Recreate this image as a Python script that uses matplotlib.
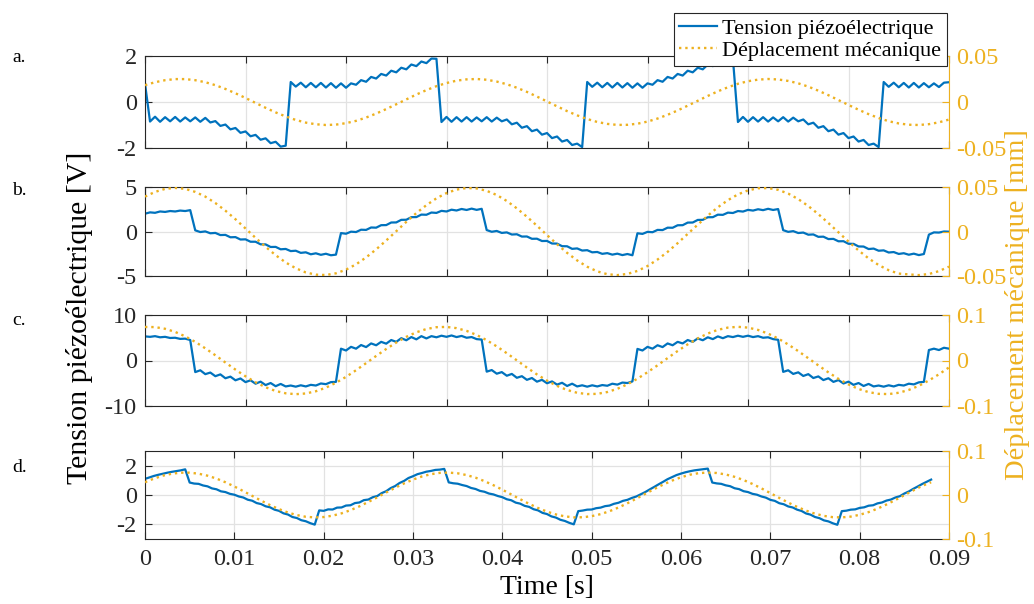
import numpy as np
import matplotlib
matplotlib.use('Agg')
import matplotlib.pyplot as plt

plt.rcParams['font.family'] = ['Liberation Serif', 'DejaVu Serif']
plt.rcParams['axes.unicode_minus'] = False

# sample steps (s)
dt_volt = 0.0005
dt_disp = 0.001

# a. piezo voltage [V]
volt_a = [0.80,
          -0.85, -0.64, -0.86, -0.66, -0.84, -0.65, -0.85, -0.67, -0.84, -0.67, -0.86, -0.69,
          -0.89, -0.83, -1.04, -0.98, -1.19, -1.13, -1.34, -1.28, -1.49, -1.43, -1.64, -1.58, -1.79, -1.73, -1.94, -1.90,
          0.87, 0.67, 0.84, 0.64, 0.83, 0.64, 0.83, 0.63, 0.82, 0.62, 0.81, 0.62,
          0.81, 0.75, 0.95, 0.88, 1.09, 1.02, 1.22, 1.15, 1.36, 1.29, 1.49, 1.42, 1.63, 1.56, 1.76, 1.69, 1.89, 1.88,
          -0.87, -0.65, -0.86, -0.66, -0.85, -0.66, -0.85, -0.67, -0.84, -0.66, -0.85, -0.68,
          -0.84, -0.76, -0.97, -0.90, -1.12, -1.05, -1.27, -1.20, -1.42, -1.35, -1.57, -1.50, -1.72, -1.65, -1.87, -1.81, -1.96,
          0.87, 0.66, 0.84, 0.64, 0.83, 0.63, 0.83, 0.63, 0.82, 0.62, 0.81, 0.62,
          0.81, 0.75, 0.95, 0.88, 1.09, 1.02, 1.22, 1.15, 1.36, 1.29, 1.49, 1.42, 1.63, 1.56, 1.76, 1.69, 1.89, 1.88,
          -0.87, -0.65, -0.86, -0.66, -0.85, -0.66, -0.85, -0.67, -0.84, -0.66, -0.85, -0.68,
          -0.84, -0.76, -0.97, -0.90, -1.12, -1.05, -1.27, -1.20, -1.42, -1.35, -1.57, -1.50, -1.72, -1.65, -1.87, -1.81, -1.96,
          0.87, 0.66, 0.84, 0.64, 0.83, 0.63, 0.83, 0.63, 0.82, 0.64, 0.81, 0.65, 0.84, 0.86]

# a. displacement [mm]
disp_a = [0.0183, 0.0215, 0.0237, 0.0249, 0.0249, 0.0237, 0.0215, 0.0183, 0.0142, 0.0095,
          0.0044, -0.0010, -0.0063, -0.0113, -0.0157, -0.0195, -0.0224, -0.0242, -0.0250, -0.0246,
          -0.0230, -0.0205, -0.0169, -0.0126, -0.0077, -0.0025, 0.0028, 0.0081, 0.0129, 0.0172,
          0.0206, 0.0232, 0.0246, 0.0250, 0.0242, 0.0222, 0.0193, 0.0155, 0.0110, 0.0059,
          0.0006, -0.0047, -0.0099, -0.0145, -0.0185, -0.0217, -0.0238, -0.0249, -0.0248, -0.0236,
          -0.0213, -0.0180, -0.0139, -0.0092, -0.0040, 0.0013, 0.0066, 0.0116, 0.0160, 0.0198,
          0.0226, 0.0243, 0.0250, 0.0245, 0.0229, 0.0203, 0.0167, 0.0123, 0.0074, 0.0021,
          -0.0032, -0.0084, -0.0132, -0.0174, -0.0209, -0.0233, -0.0247, -0.0250, -0.0241, -0.0221,
          -0.0191]

# b. piezo voltage [V]
volt_b = [2.0, 2.15, 2.1, 2.25, 2.2, 2.3, 2.25, 2.35, 2.3, 2.4,
          0.13, -0.06, 0.01, -0.2, -0.16, -0.4, -0.38, -0.65, -0.63, -0.9,
          -0.88, -1.15, -1.15, -1.44, -1.45, -1.74, -1.73, -2.0, -1.96, -2.2,
          -2.16, -2.4, -2.34, -2.56, -2.45, -2.62, -2.5, -2.67, -2.6,
          -0.18, -0.25, -0.02, -0.06, 0.2, 0.18, 0.45, 0.43, 0.71, 0.72,
          1.01, 1.02, 1.31, 1.32, 1.61, 1.62, 1.9, 1.88, 2.13, 2.09,
          2.32, 2.25, 2.45, 2.36, 2.53, 2.42, 2.57, 2.43, 2.55,
          0.16, -0.03, 0.06, -0.16, -0.1, -0.34, -0.31, -0.57, -0.56, -0.82,
          -0.81, -1.07, -1.06, -1.35, -1.36, -1.65, -1.66, -1.95, -1.9, -2.14,
          -2.1, -2.34, -2.3, -2.51, -2.43, -2.6, -2.49, -2.65, -2.53, -2.67,
          -0.2, -0.27, -0.04, -0.08, 0.18, 0.16, 0.43, 0.42, 0.7, 0.71,
          1.0, 1.01, 1.3, 1.31, 1.6, 1.61, 1.89, 1.87, 2.12, 2.08,
          2.3, 2.24, 2.43, 2.35, 2.5, 2.4, 2.55, 2.42, 2.52,
          0.15, -0.04, 0.04, -0.17, -0.12, -0.36, -0.33, -0.6, -0.58, -0.85,
          -0.83, -1.1, -1.09, -1.38, -1.39, -1.68, -1.69, -1.97, -1.92, -2.16,
          -2.12, -2.36, -2.31, -2.52, -2.44, -2.61, -2.49, -2.65, -2.53,
          -0.35, -0.1, -0.12, 0.0, -0.02]

# b. displacement [mm]
disp_b = [0.0392, 0.0445, 0.0479, 0.0490, 0.0479, 0.0445, 0.0392, 0.0320, 0.0234, 0.0138,
          0.0034, -0.0071, -0.0172, -0.0266, -0.0348, -0.0413, -0.0460, -0.0485, -0.0489, -0.0470,
          -0.0429, -0.0369, -0.0291, -0.0201, -0.0101, 0.0003, 0.0108, 0.0207, 0.0296, 0.0373,
          0.0432, 0.0471, 0.0489, 0.0484, 0.0457, 0.0410, 0.0343, 0.0260, 0.0166, 0.0065,
          -0.0040, -0.0143, -0.0240, -0.0325, -0.0396, -0.0448, -0.0480, -0.0490, -0.0477, -0.0443,
          -0.0388, -0.0315, -0.0229, -0.0131, -0.0027, 0.0077, 0.0178, 0.0272, 0.0352, 0.0417,
          0.0462, 0.0486, 0.0488, 0.0468, 0.0426, 0.0364, 0.0286, 0.0195, 0.0095, -0.0009,
          -0.0113, -0.0213, -0.0302, -0.0377, -0.0435, -0.0473, -0.0482, -0.0490, -0.0478, -0.0445,
          -0.0395]

# c. piezo voltage [V]
volt_c = [5.3, 5.2, 5.35, 5.1, 5.2, 4.95, 5.0, 4.75, 4.8, 4.5,
          -2.55, -2.15, -3.0, -2.65, -3.45, -3.05, -3.9, -3.55, -4.35, -3.95,
          -4.75, -4.35, -5.1, -4.65, -5.4, -4.95, -5.65, -5.15, -5.7, -5.5,
          -5.75, -5.45, -5.7, -5.35, -5.5, -5.05, -5.2, -4.75, -4.7,
          2.6, 2.2, 3.0, 2.6, 3.4, 2.95, 3.75, 3.35, 4.1, 3.7,
          4.5, 4.1, 4.9, 4.45, 5.15, 4.65, 5.35, 4.85, 5.35, 5.1,
          5.45, 5.2, 5.5, 5.15, 5.4, 5.0, 5.15, 4.7, 4.6,
          -2.45, -2.1, -2.9, -2.55, -3.35, -2.95, -3.8, -3.45, -4.25, -3.85,
          -4.65, -4.25, -5.0, -4.6, -5.3, -4.9, -5.6, -5.1, -5.7, -5.45,
          -5.75, -5.45, -5.7, -5.4, -5.55, -5.1, -5.3, -4.85, -4.95, -4.6,
          2.55, 2.2, 3.0, 2.6, 3.35, 2.95, 3.75, 3.35, 4.1, 3.75,
          4.5, 4.1, 4.85, 4.45, 5.1, 4.7, 5.3, 4.9, 5.35, 5.15,
          5.45, 5.2, 5.45, 5.15, 5.35, 5.0, 5.1, 4.7, 4.55,
          -2.5, -2.15, -2.95, -2.6, -3.4, -3.0, -3.85, -3.5, -4.3, -3.9,
          -4.7, -4.3, -5.05, -4.65, -5.35, -4.95, -5.6, -5.15, -5.7, -5.5,
          -5.75, -5.45, -5.7, -5.35, -5.5, -5.1, -5.25, -4.8, -4.7,
          2.3, 2.6, 2.3, 2.8, 2.6]

# c. displacement [mm]
disp_c = [0.0737, 0.0734, 0.0697, 0.0628, 0.0531, 0.0409, 0.0268, 0.0115, -0.0044, -0.0200,
          -0.0347, -0.0479, -0.0588, -0.0670, -0.0721, -0.0740, -0.0725, -0.0676, -0.0597, -0.0489,
          -0.0360, -0.0214, -0.0058, 0.0100, 0.0253, 0.0395, 0.0520, 0.0620, 0.0692, 0.0732,
          0.0738, 0.0711, 0.0651, 0.0561, 0.0446, 0.0310, 0.0160, 0.0003, -0.0155, -0.0306,
          -0.0442, -0.0558, -0.0648, -0.0710, -0.0738, -0.0733, -0.0693, -0.0622, -0.0523, -0.0400,
          -0.0258, -0.0106, 0.0053, 0.0209, 0.0355, 0.0485, 0.0593, 0.0674, 0.0723, 0.0740,
          0.0723, 0.0672, 0.0591, 0.0483, 0.0352, 0.0206, 0.0050, -0.0108, -0.0261, -0.0403,
          -0.0526, -0.0625, -0.0695, -0.0733, -0.0738, -0.0709, -0.0647, -0.0556, -0.0439, -0.0303,
          -0.0152]

# d. piezo voltage [V]
volt_d = [1.1, 1.2, 1.3, 1.38, 1.45, 1.52, 1.58, 1.63, 1.68, 1.75,
          0.85, 0.78, 0.76, 0.65, 0.59, 0.45, 0.39, 0.25, 0.2, 0.08,
          0.02, -0.1, -0.17, -0.32, -0.39, -0.55, -0.62, -0.77, -0.84, -1.0,
          -1.08, -1.25, -1.33, -1.5, -1.57, -1.72, -1.79, -1.92, -2.02,
          -1.05, -1.08, -0.98, -0.99, -0.86, -0.85, -0.72, -0.7, -0.55, -0.51,
          -0.35, -0.31, -0.15, -0.07, 0.13, 0.26, 0.47, 0.61, 0.82, 0.96,
          1.16, 1.28, 1.42, 1.5, 1.59, 1.64, 1.71, 1.73, 1.78,
          0.86, 0.8, 0.77, 0.68, 0.61, 0.48, 0.41, 0.28, 0.22, 0.1,
          0.04, -0.07, -0.15, -0.29, -0.36, -0.52, -0.59, -0.74, -0.81, -0.97,
          -1.05, -1.22, -1.3, -1.46, -1.54, -1.69, -1.77, -1.9, -2.0,
          -1.1, -1.06, -1.0, -0.99, -0.9, -0.86, -0.76, -0.72, -0.6, -0.53,
          -0.4, -0.33, -0.2, -0.1, 0.05, 0.2, 0.38, 0.55, 0.73, 0.9,
          1.08, 1.22, 1.36, 1.46, 1.55, 1.62, 1.68, 1.72, 1.76, 1.8,
          0.85, 0.79, 0.76, 0.66, 0.6, 0.46, 0.4, 0.26, 0.2, 0.08,
          0.02, -0.1, -0.18, -0.33, -0.4, -0.56, -0.63, -0.78, -0.85, -1.0,
          -1.09, -1.26, -1.34, -1.5, -1.58, -1.73, -1.8, -1.93, -2.03,
          -1.1, -1.07, -1.0, -0.98, -0.88, -0.84, -0.73, -0.7, -0.57, -0.51,
          -0.38, -0.31, -0.17, -0.08, 0.1, 0.24, 0.42, 0.58, 0.75, 0.9, 1.05]

# d. displacement [mm]
disp_d = [0.0290, 0.0373, 0.0439, 0.0484, 0.0507, 0.0507, 0.0484, 0.0439, 0.0373, 0.0290,
          0.0194, 0.0089, -0.0020, -0.0128, -0.0230, -0.0321, -0.0398, -0.0457, -0.0495, -0.0510,
          -0.0501, -0.0470, -0.0417, -0.0345, -0.0258, -0.0158, -0.0052, 0.0058, 0.0164, 0.0263,
          0.0350, 0.0421, 0.0473, 0.0503, 0.0509, 0.0493, 0.0453, 0.0394, 0.0315, 0.0223,
          0.0121, 0.0012, -0.0096, -0.0201, -0.0296, -0.0378, -0.0442, -0.0486, -0.0508, -0.0506,
          -0.0481, -0.0435, -0.0368, -0.0285, -0.0188, -0.0083, 0.0027, 0.0135, 0.0236, 0.0327,
          0.0403, 0.0461, 0.0497, 0.0510, 0.0500, 0.0467, 0.0413, 0.0340, 0.0251, 0.0151,
          0.0043, -0.0066, -0.0172, -0.0270, -0.0355, -0.0425, -0.0475, -0.0504, -0.0509, -0.0491,
          -0.0450, -0.0389, -0.0310, -0.0216, -0.0113, -0.0005, 0.0104, 0.0208, 0.0290]

letters = ['a.', 'b.', 'c.', 'd.']
volts = [volt_a, volt_b, volt_c, volt_d]
disps = [disp_a, disp_b, disp_c, disp_d]
x_max = [0.08, 0.08, 0.08, 0.09]
v_lim = [(-2, 2), (-5, 5), (-10, 10), (-3, 3)]
v_ticks = [[-2, 0, 2], [-5, 0, 5], [-10, 0, 10], [-2, 0, 2]]
d_lim = [(-0.05, 0.05), (-0.05, 0.05), (-0.1, 0.1), (-0.1, 0.1)]
d_ticks = [[-0.05, 0, 0.05], [-0.05, 0, 0.05], [-0.1, 0, 0.1], [-0.1, 0, 0.1]]
d_ticklabels = [['-0.05', '0', '0.05'], ['-0.05', '0', '0.05'], ['-0.1', '0', '0.1'], ['-0.1', '0', '0.1']]
time_ticklabels = ['0', '0.01', '0.02', '0.03', '0.04', '0.05', '0.06', '0.07', '0.08', '0.09']

blue = '#0072BD'
orange = '#EDB120'
dark = '#262626'

W, H = 1034, 604
fig = plt.figure(figsize=(W / 100, H / 100), dpi=100)

# axes boxes in pixels: (top, bottom)
boxes = [(56, 148), (187, 276), (315, 406), (451, 539)]
letter_y = [62, 195, 325, 472]
x_left, x_right = 145, 949

for i in range(4):
    top, bot = boxes[i]
    ax = fig.add_axes([x_left / W, 1 - bot / H, (x_right - x_left) / W, (bot - top) / H])
    tv = np.arange(len(volts[i])) * dt_volt
    td = np.arange(len(disps[i])) * dt_disp
    l1, = ax.plot(tv, volts[i], color=blue, lw=1.6, solid_joinstyle='round',
                  label='Tension piézoélectrique')
    ax.set_xlim(0, x_max[i])
    ax.set_ylim(*v_lim[i])
    n = int(round(x_max[i] / 0.01))
    ax.set_xticks(np.linspace(0, x_max[i], n + 1))
    ax.set_yticks(v_ticks[i])
    ax.set_yticklabels([str(v) for v in v_ticks[i]])
    ax.grid(True, color='#e2e2e2', lw=0.9)
    ax.set_axisbelow(True)
    ax.tick_params(direction='in', top=True, right=False, length=5, width=0.8,
                   colors=dark, labelsize=17.5)
    ax.tick_params(axis='y', pad=6)
    ax.tick_params(axis='x', pad=7)
    if i < 3:
        ax.tick_params(labelbottom=False)
    else:
        ax.set_xticklabels(time_ticklabels)
    for s in ['left', 'top', 'bottom']:
        ax.spines[s].set_color(dark)
        ax.spines[s].set_linewidth(0.8)
    ax.spines['right'].set_visible(False)

    ax2 = ax.twinx()
    l2, = ax2.plot(td, disps[i], color=orange, ls=':', lw=1.7, label='Déplacement mécanique')
    ax2.set_ylim(*d_lim[i])
    ax2.set_yticks(d_ticks[i])
    ax2.set_yticklabels(d_ticklabels[i])
    ax2.tick_params(direction='in', length=5, width=0.8, colors=orange, labelsize=17.5, pad=5)
    for s in ['left', 'top', 'bottom']:
        ax2.spines[s].set_visible(False)
    ax2.spines['right'].set_color(orange)
    ax2.spines['right'].set_linewidth(0.8)

    fig.text(12 / W, 1 - letter_y[i] / H, letters[i], fontsize=14, va='baseline', ha='left')

    if i == 0:
        handles = [l1, l2]

fig.text(80 / W, 1 - 318 / H, 'Tension piézoélectrique [V]', rotation=90,
         ha='center', va='center', fontsize=21.5, color='black')
fig.text(1017 / W, 1 - 305 / H, 'Déplacement mécanique [mm]', rotation=90,
         ha='center', va='center', fontsize=20.5, color=orange)
fig.text(547 / W, 1 - 588 / H, 'Time [s]', ha='center', va='center', fontsize=20)

leg = fig.legend(handles, [h.get_label() for h in handles], loc='upper right',
                 bbox_to_anchor=(947 / W, 1 - 13 / H), fontsize=16, frameon=True,
                 fancybox=False, framealpha=1, edgecolor=dark, borderpad=0.25,
                 handlelength=1.7, handletextpad=0.25, labelspacing=0.05, borderaxespad=0)
leg.get_frame().set_linewidth(0.8)

fig.savefig('out.png', dpi=100)
